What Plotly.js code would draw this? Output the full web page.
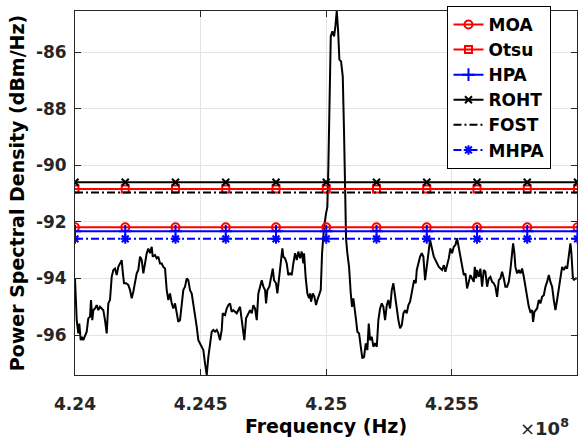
<!DOCTYPE html>
<html>
<head>
<meta charset="utf-8">
<script src="https://cdn.plot.ly/plotly-3.0.1.min.js"></script>
<style>html,body{margin:0;padding:0;background:#fff;}#chart{width:578px;height:439px;}</style>
</head>
<body>
<div id="chart"></div>
<script>
// ---- data (frequency in MHz, PSD in dBm/Hz) ----
const freqMHz = [
424.0000,424.0068,424.0131,424.0171,424.0227,424.0279,424.0330,424.0398,424.0466,424.0529,
424.0597,424.0637,424.0689,424.0729,424.0796,424.0864,424.0928,424.0995,424.1063,424.1127,
424.1194,424.1262,424.1326,424.1393,424.1461,424.1525,424.1592,424.1660,424.1724,424.1791,
424.1859,424.1899,424.1951,424.2030,424.2122,424.2190,424.2257,424.2321,424.2389,424.2456,
424.2520,424.2588,424.2655,424.2719,424.2787,424.2854,424.2918,424.2986,424.3053,424.3093,
424.3185,424.3252,424.3316,424.3384,424.3451,424.3515,424.3583,424.3651,424.3714,424.3782,
424.3850,424.3913,424.3981,424.4049,424.4112,424.4180,424.4248,424.4311,424.4379,424.4447,
424.4510,424.4578,424.4646,424.4709,424.4777,424.4845,424.4909,424.4976,424.5044,424.5108,
424.5175,424.5243,424.5307,424.5374,424.5442,424.5506,424.5573,424.5641,424.5705,424.5772,
424.5840,424.5880,424.5972,424.6039,424.6103,424.6171,424.6238,424.6302,424.6437,424.6569,
424.6700,424.6740,424.6808,424.6899,424.6967,424.7035,424.7098,424.7166,424.7234,424.7297,
424.7365,424.7433,424.7496,424.7564,424.7604,424.7656,424.7735,424.7803,424.7871,424.7922,
424.8002,424.8054,424.8121,424.8189,424.8253,424.8292,424.8360,424.8428,424.8491,424.8559,
424.8627,424.8690,424.8758,424.8826,424.8890,424.8957,424.9025,424.9089,424.9116,424.9184,
424.9248,424.9316,424.9355,424.9395,424.9463,424.9527,424.9594,424.9646,424.9726,424.9781,
424.9833,424.9913,424.9992,425.0044,425.0084,425.0124,425.0180,425.0243,425.0311,425.0363,
425.0391,425.0418,425.0470,425.0522,425.0589,425.0657,425.0709,425.0749,425.0789,425.0840,
425.0908,425.0976,425.1027,425.1079,425.1135,425.1187,425.1238,425.1306,425.1374,425.1437,
425.1505,425.1573,425.1636,425.1692,425.1744,425.1812,425.1875,425.1943,425.2011,425.2074,
425.2142,425.2210,425.2273,425.2341,425.2409,425.2472,425.2540,425.2608,425.2671,425.2739,
425.2807,425.2871,425.2938,425.3006,425.3070,425.3137,425.3205,425.3269,425.3336,425.3404,
425.3444,425.3496,425.3563,425.3603,425.3667,425.3734,425.3802,425.3866,425.3934,425.4001,
425.4065,425.4133,425.4280,425.4411,425.4481,425.4610,425.4680,425.4742,425.4877,425.4941,
425.5008,425.5076,425.5140,425.5207,425.5275,425.5339,425.5406,425.5474,425.5538,425.5606,
425.5673,425.5737,425.5805,425.5872,425.5912,425.5964,425.6004,425.6071,425.6135,425.6203,
425.6270,425.6334,425.6402,425.6469,425.6533,425.6601,425.6668,425.6732,425.6800,425.6867,
425.6931,425.6999,425.7066,425.7130,425.7198,425.7265,425.7329,425.7397,425.7437,425.7489,
425.7528,425.7596,425.7664,425.7727,425.7795,425.7863,425.7926,425.7994,425.8062,425.8125,
425.8193,425.8233,425.8285,425.8392,425.8460,425.8524,425.8591,425.8659,425.8723,425.8790,
425.8858,425.8922,425.8989,425.9057,425.9121,425.9188,425.9256,425.9320,425.9387,425.9455,
425.9519,425.9587,425.9654,425.9718,425.9758,425.9813,425.9853,425.9917,425.9972
];
const psdDbm = [
-94.00,-95.47,-95.94,-95.59,-96.18,-96.06,-96.18,-96.00,-95.88,-95.41,
-95.35,-94.76,-95.47,-95.12,-95.06,-94.94,-95.12,-95.00,-95.06,-95.12,
-95.47,-95.94,-94.88,-94.76,-93.94,-93.70,-93.65,-93.88,-93.59,-93.47,
-93.35,-93.76,-94.17,-94.17,-94.23,-94.41,-94.70,-94.47,-94.06,-93.82,
-93.70,-93.23,-93.35,-93.82,-93.47,-93.11,-92.94,-93.11,-92.88,-93.23,
-93.17,-93.29,-93.23,-93.47,-93.47,-93.59,-93.65,-94.41,-94.76,-94.53,
-94.88,-95.06,-94.88,-95.23,-95.53,-95.47,-95.00,-94.41,-94.29,-94.00,
-94.06,-94.41,-94.53,-94.88,-95.35,-95.71,-96.18,-96.29,-96.41,-96.53,
-97.00,-97.41,-96.77,-96.29,-95.88,-95.82,-95.88,-95.82,-95.94,-96.18,
-95.82,-95.23,-95.29,-95.06,-94.94,-94.88,-95.18,-95.12,-95.23,-95.00,
-95.82,-96.18,-95.41,-95.23,-95.12,-95.23,-94.94,-95.06,-95.47,-94.53,
-94.23,-94.06,-94.29,-94.41,-94.88,-94.41,-94.29,-93.94,-93.65,-94.06,
-94.17,-94.53,-93.94,-93.47,-92.94,-93.23,-93.29,-93.47,-93.88,-93.82,
-93.88,-93.47,-93.11,-93.35,-93.05,-93.29,-93.05,-93.47,-93.11,-94.00,
-94.53,-94.70,-94.53,-94.82,-94.53,-94.64,-94.94,-94.76,-94.59,-94.41,
-93.11,-92.17,-91.70,-91.47,-90.05,-87.69,-85.45,-85.27,-85.45,-85.10,
-84.63,-84.55,-85.21,-86.27,-86.33,-86.86,-88.86,-91.20,-92.61,-93.11,
-93.59,-94.53,-95.00,-94.70,-95.23,-95.47,-95.88,-95.94,-96.41,-96.82,
-96.77,-96.29,-96.53,-95.59,-96.18,-96.06,-96.41,-96.29,-96.41,-95.47,
-95.06,-94.88,-95.00,-95.47,-94.94,-94.76,-95.06,-94.41,-94.17,-94.64,
-95.23,-95.47,-95.76,-95.65,-95.23,-95.12,-95.23,-94.94,-94.82,-94.53,
-94.41,-94.06,-94.17,-93.70,-93.47,-93.23,-93.11,-93.23,-94.06,-93.59,
-93.11,-92.64,-93.23,-93.47,-93.59,-93.70,-93.53,-93.76,-93.29,-92.94,
-93.11,-92.88,-92.82,-92.58,-92.88,-93.29,-93.47,-93.88,-93.82,-94.35,
-94.12,-93.88,-94.00,-94.12,-93.59,-94.00,-93.70,-93.94,-93.65,-94.29,
-93.70,-93.76,-94.29,-94.00,-93.94,-94.12,-94.17,-94.29,-94.65,-94.06,
-94.00,-93.76,-94.00,-94.29,-94.29,-94.12,-93.70,-93.11,-92.76,-93.11,
-93.59,-93.82,-93.70,-93.82,-93.65,-93.94,-94.29,-94.65,-95.00,-95.18,
-95.12,-95.53,-95.18,-95.06,-94.76,-94.88,-94.65,-94.59,-94.29,-94.12,
-93.88,-94.12,-94.29,-94.76,-95.12,-94.76,-94.29,-94.00,-93.59,-93.70,
-93.59,-93.65,-93.23,-92.76,-93.11,-93.94,-94.06,-94.00,-94.00
];
const markerFreqMHz = [424.0,424.2,424.4,424.6,424.8,425.0,425.2,425.4,425.6,425.8,426.0];
const methodNames = ['MOA','Otsu','HPA','ROHT','FOST','MHPA'];
const thresholdDbm = [-92.19,-90.84,-92.33,-90.60,-90.96,-92.60];
const xTickVals = [424.0,424.5,425.0,425.5];
const xTickText = ['4.24','4.245','4.25','4.255'];
const yTickVals = [-96,-94,-92,-90,-88,-86];
const yTickText = ['-96','-94','-92','-90','-88','-86'];

// ---- styles ----
const styles = [
  {color:'#ff0000', dash:'solid',   symbol:'circle-open',     size:8},
  {color:'#ff0000', dash:'solid',   symbol:'square-open',     size:7},
  {color:'#0000ff', dash:'solid',   symbol:'cross-thin-open', size:9},
  {color:'#000000', dash:'solid',   symbol:'x-thin-open',     size:7},
  {color:'#000000', dash:'8px,3px,2px,3px', symbol:null,      size:0},
  {color:'#0000ff', dash:'8px,3px,2px,3px', symbol:'asterisk-open', size:8}
];
const FONT = 'DejaVu Sans, Arial, sans-serif';

const traces = [{
  x: freqMHz, y: psdDbm, type:'scatter', mode:'lines',
  line:{color:'#000000', width:2}, showlegend:false, hoverinfo:'skip'
}];
methodNames.forEach((name,i)=>{
  const s = styles[i];
  const t = {
    x: markerFreqMHz,
    y: markerFreqMHz.map(()=>thresholdDbm[i]),
    type:'scatter', name:name,
    mode: s.symbol ? 'lines+markers' : 'lines',
    line:{color:s.color, width:2, dash:s.dash}
  };
  if (s.symbol) t.marker = {symbol:s.symbol, size:s.size, color:s.color, line:{color:s.color, width:2}};
  traces.push(t);
});

const axisCommon = {
  showline:true, linecolor:'#262626', linewidth:1, mirror:'ticks',
  ticks:'inside', ticklen:6, tickwidth:1, tickcolor:'#262626',
  showgrid:true, gridcolor:'#e3e3e3', gridwidth:1, zeroline:false,
  tickfont:{family:FONT, size:17, color:'#262626', weight:'bold'}
};

const layout = {
  width:578, height:439,
  margin:{l:75, r:1, t:11, b:64},
  paper_bgcolor:'#ffffff', plot_bgcolor:'#ffffff',
  xaxis: Object.assign({}, axisCommon, {
    range:[424.0, 425.998], tickmode:'array', tickvals:xTickVals, ticktext:xTickText,
    ticklabelstandoff:14,
    title:{text:'Frequency (Hz)', font:{family:FONT, size:19, color:'#000000', weight:'bold'}, standoff:6}
  }),
  yaxis: Object.assign({}, axisCommon, {
    range:[-97.41, -84.55], tickmode:'array', tickvals:yTickVals, ticktext:yTickText,
    ticklabelstandoff:4,
    title:{text:'Power Spectral Density (dBm/Hz)', font:{family:FONT, size:19, color:'#000000', weight:'bold'}, standoff:6}
  }),
  legend:{
    x:0.742, y:1.014, xanchor:'left', yanchor:'top',
    bgcolor:'#ffffff', bordercolor:'#000000', borderwidth:1,
    font:{family:FONT, size:17, color:'#000000', weight:'bold'},
    tracegroupgap:0
  },
  annotations:[{
    text:'<span style="font-weight:normal">×</span>10<sup>8</sup>', xref:'paper', yref:'paper', x:0.988, y:-0.18,
    xanchor:'right', yanchor:'bottom', showarrow:false,
    font:{family:FONT, size:18, color:'#262626', weight:'bold'}
  }],
  showlegend:true
};

Plotly.newPlot('chart', traces, layout, {displayModeBar:false, staticPlot:true});
</script>
</body>
</html>
